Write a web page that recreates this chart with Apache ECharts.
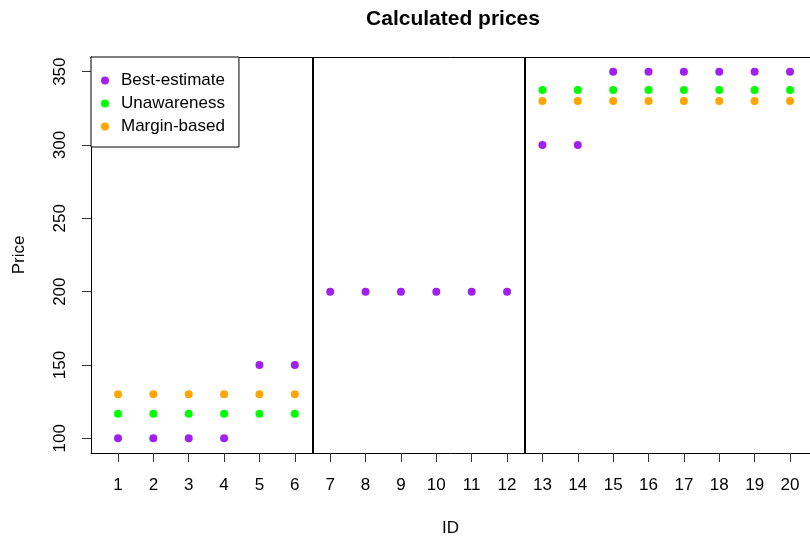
<!DOCTYPE html>
<html>
<head>
<meta charset="utf-8">
<script src="https://cdn.jsdelivr.net/npm/echarts@6/dist/echarts.min.js"></script>
<style>html,body{margin:0;padding:0;background:#fff}#c{width:810px;height:540px}</style>
</head>
<body>
<div id="c"></div>
<script>
const ids = [1,2,3,4,5,6,7,8,9,10,11,12,13,14,15,16,17,18,19,20];
const bestEstimate = [100,100,100,100,150,150,200,200,200,200,200,200,300,300,350,350,350,350,350,350];
const unawareness = [116.7,116.7,116.7,116.7,116.7,116.7,null,null,null,null,null,null,337.5,337.5,337.5,337.5,337.5,337.5,337.5,337.5];
const marginBased = [130,130,130,130,130,130,null,null,null,null,null,null,330,330,330,330,330,330,330,330];
const groupBreaks = [6.5, 12.5];
const yTicks = [100,150,200,250,300,350];
const xTicks = ids;

const FONT = 'Liberation Sans, Arial, sans-serif';
function pts(arr){ return ids.map((id,i)=>[id, arr[i]]).filter(p=>p[1]!==null); }

const XMIN = 0.237, XMAX = 20.565;
const chart = echarts.init(document.getElementById('c'), null, {renderer:'canvas'});
chart.setOption({
  animation:false,
  backgroundColor:'#fff',
  title:{text:'Calculated prices', left:448, top:4, textAlign:'center',
    textStyle:{fontFamily:FONT, fontSize:21, fontWeight:'bold', color:'#000'}},
  grid:{left:91, top:57, right:0, bottom:87, show:false, outerBoundsMode:'none', containLabel:false},
  legend:{
    orient:'vertical', left:91, top:57,
    data:['Best-estimate','Unawareness','Margin-based'],
    icon:'circle', itemWidth:8, itemHeight:8, itemGap:6,
    padding:[15,14,12,10],
    borderColor:'#000', borderWidth:1, backgroundColor:'#fff', borderRadius:0,
    textStyle:{fontFamily:FONT, fontSize:17, color:'#000', lineHeight:17, padding:[0,0,0,7]}
  },
  xAxis:[{type:'value', min:XMIN, max:XMAX, position:'bottom',
    name:'ID', nameLocation:'middle', nameGap:67,
    nameTextStyle:{fontFamily:FONT, fontSize:17, color:'#000'},
    axisLine:{show:true, onZero:false, lineStyle:{color:'#000', width:1}},
    axisTick:{show:true, customValues:xTicks, length:9, lineStyle:{color:'#333'}},
    axisLabel:{customValues:xTicks, margin:24, fontFamily:FONT, fontSize:17, color:'#000'},
    splitLine:{show:false}},
   {type:'value', min:XMIN, max:XMAX, position:'top',
    axisLine:{show:true, onZero:false, lineStyle:{color:'#000', width:1}},
    axisTick:{show:false}, axisLabel:{show:false}, splitLine:{show:false}}],
  yAxis:{type:'value', min:90, max:360,
    name:'Price', nameLocation:'middle', nameGap:63, nameRotate:90,
    nameTextStyle:{fontFamily:FONT, fontSize:17, color:'#000'},
    axisLine:{show:true, onZero:false, lineStyle:{color:'#000', width:1}},
    axisTick:{show:true, customValues:yTicks, length:9, lineStyle:{color:'#333'}},
    axisLabel:{customValues:yTicks, rotate:90, margin:22, fontFamily:FONT, fontSize:17, color:'#000'},
    splitLine:{show:false}},
  series:[
    {name:'Best-estimate', type:'scatter', symbolSize:8, itemStyle:{color:'#A020F0', opacity:1}, data:pts(bestEstimate),
     markLine:{silent:true, symbol:'none', label:{show:false}, lineStyle:{color:'#000', width:2, type:'solid', opacity:1},
       data:groupBreaks.map(v=>({xAxis:v}))}},
    {name:'Unawareness', type:'scatter', symbolSize:8, itemStyle:{color:'#00FF00', opacity:1}, data:pts(unawareness)},
    {name:'Margin-based', type:'scatter', symbolSize:8, itemStyle:{color:'#FFA500', opacity:1}, data:pts(marginBased)}
  ]
});
</script>
</body>
</html>
